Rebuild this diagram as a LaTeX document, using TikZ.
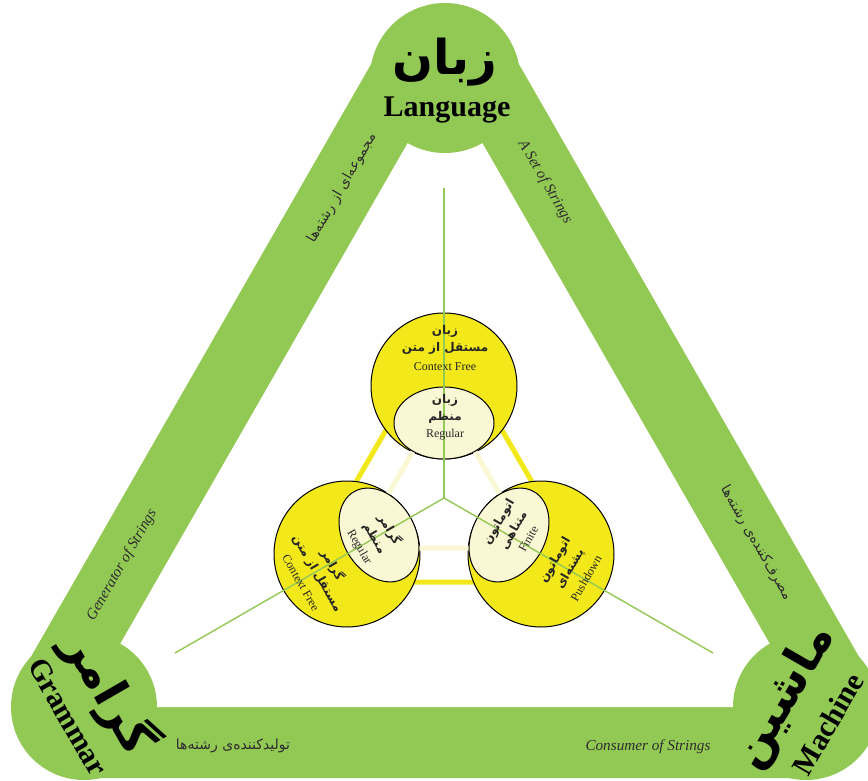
\documentclass[tikz,border=0pt]{standalone}
\usepackage{fontspec}
\setmainfont{Liberation Serif}
\newfontfamily\fafont[Script=Arabic]{DejaVu Sans}
\TeXXeTstate=1
\usetikzlibrary{shapes.geometric}

\definecolor{bandgreen}{RGB}{146,200,84}
\definecolor{cfyellow}{RGB}{242,232,26}
\definecolor{regcream}{RGB}{250,248,212}
\definecolor{labelgray}{RGB}{45,45,45}

\newcommand{\fatxt}[1]{{\fafont\beginR #1\endR}}
\newcommand{\fab}[1]{{\fafont\bfseries\beginR #1\endR}}

\begin{document}
\begin{tikzpicture}[
    x=0.5pt, y=0.5pt,
    band/.style={draw=bandgreen, line width=71pt, line join=round},
    cornerdisk/.style={circle, fill=bandgreen, inner sep=0pt},
    cfdisk/.style={circle, draw=black, line width=0.5pt, fill=cfyellow,
                   minimum size=73pt, inner sep=0pt},
    regdisk/.style={ellipse, draw=black, line width=0.5pt, fill=regcream,
                    minimum width=50pt, minimum height=36pt, inner sep=0pt},
    cfline/.style={draw=cfyellow, line width=2.5pt},
    regline/.style={draw=regcream, line width=2.5pt},
    spoke/.style={draw=bandgreen, line width=0.7pt},
    bigfa/.style={font=\bfseries\fontsize{24}{26}\selectfont, inner sep=0pt},
    bigen/.style={font=\bfseries\fontsize{15}{17}\selectfont, inner sep=0pt},
    sidefa/.style={font=\fontsize{7}{8}\selectfont, text=labelgray, inner sep=0pt},
    sideen/.style={font=\itshape\fontsize{7.6}{9}\selectfont, text=labelgray, inner sep=0pt},
    disktext/.style={align=center, font=\fontsize{6}{8.6}\selectfont,
                     text=black!85, inner sep=0pt}
]
  \useasboundingbox (0,0) rectangle (868,-781);
  \clip (0,0) rectangle (868,-781);

  % Outer triangle band
  \coordinate (vT) at (445,-78);
  \coordinate (vL) at (84,-707);
  \coordinate (vR) at (806,-707);
  \draw[band] (vT) -- (vL) -- (vR) -- cycle;
  \fill[white] (vT) -- (vL) -- (vR) -- cycle;
  \node[cornerdisk, minimum size=75pt] (langdisk) at (vT) {};
  \node[cornerdisk, minimum size=73pt] (gramdisk) at (vL) {};
  \node[cornerdisk, minimum size=73pt] (machdisk) at (vR) {};

  % Corner titles
  \node[bigfa] (langfa) at (445,-62) {\fatxt{زبان}};
  \node[bigen] (langen) at (447,-110) {Language};
  \node[bigfa, rotate=-60] (gramfa) at (110,-693) {\fatxt{گرامر}};
  \node[bigen, rotate=-60] (gramen) at (68,-717) {Grammar};
  \node[bigfa, rotate=60] (machfa) at (785,-697) {\fatxt{ماشین}};
  \node[bigen, rotate=60] (machen) at (828,-724) {Machine};

  % Side labels
  \node[sidefa, rotate=60] (setfa) at (342,-188) {\fatxt{مجموعه^^^^200cای از رشته^^^^200cها}};
  \node[sideen, rotate=-60] (seten) at (545,-182) {A Set of Strings};
  \node[sideen, rotate=60] (genen) at (122,-565) {Generator of Strings};
  \node[sidefa, rotate=-60] (consfa) at (756,-543) {\fatxt{مصرف^^^^200cکننده^^^^200cی رشته^^^^200cها}};
  \node[sidefa] (genfa) at (233,-746) {\fatxt{تولیدکننده^^^^200cی رشته^^^^200cها}};
  \node[sideen] (consen) at (648,-747) {Consumer of Strings};

  % Links between the three classes
  \coordinate (yT) at (444,-330);
  \coordinate (yL) at (298,-582);
  \coordinate (yR) at (590,-582);
  \draw[cfline] (yT) -- (yL) -- (yR) -- cycle;

  \node[cfdisk] (cfT) at (444,-386) {};
  \node[cfdisk] (cfL) at (347,-554) {};
  \node[cfdisk] (cfR) at (541,-554) {};

  \coordinate (rT) at (444,-398);
  \coordinate (rL) at (357,-548);
  \coordinate (rR) at (531,-548);
  \draw[regline] (rT) -- (rL) -- (rR) -- cycle;

  \node[regdisk] (regT) at (444,-423) {};
  \node[regdisk, rotate=-60] (regL) at (379,-535) {};
  \node[regdisk, rotate=60] (regR) at (509,-535) {};

  % Spokes from the middle
  \coordinate (ctr) at (444,-498);
  \coordinate (spT) at (444,-188);
  \coordinate (spL) at (175,-653);
  \coordinate (spR) at (713,-653);
  \draw[spoke] (ctr) -- (spT);
  \draw[spoke] (ctr) -- (spL);
  \draw[spoke] (ctr) -- (spR);

  % Texts in the disks
  \node[disktext] (cfTtxt) at (445,-348) {\fab{زبان}\\\fab{مستقل از متن}\\[1pt]Context Free};
  \node[disktext] (regTtxt) at (445,-417) {\fab{زبان}\\\fab{منظم}\\Regular};
  \node[disktext, rotate=-60] (cfLtxt) at (318,-573) {\fab{گرامر}\\\fab{مستقل از متن}\\[1pt]Context Free};
  \node[disktext, rotate=-60] (regLtxt) at (375,-538) {\fab{گرامر}\\\fab{منظم}\\Regular};
  \node[disktext, rotate=60] (cfRtxt) at (570,-569) {\fab{اتوماتون}\\\fab{پشته^^^^200cای}\\[1pt]Pushdown};
  \node[disktext, rotate=60] (regRtxt) at (513,-530) {\fab{اتوماتون}\\\fab{متناهی}\\Finite};
\end{tikzpicture}
\end{document}
